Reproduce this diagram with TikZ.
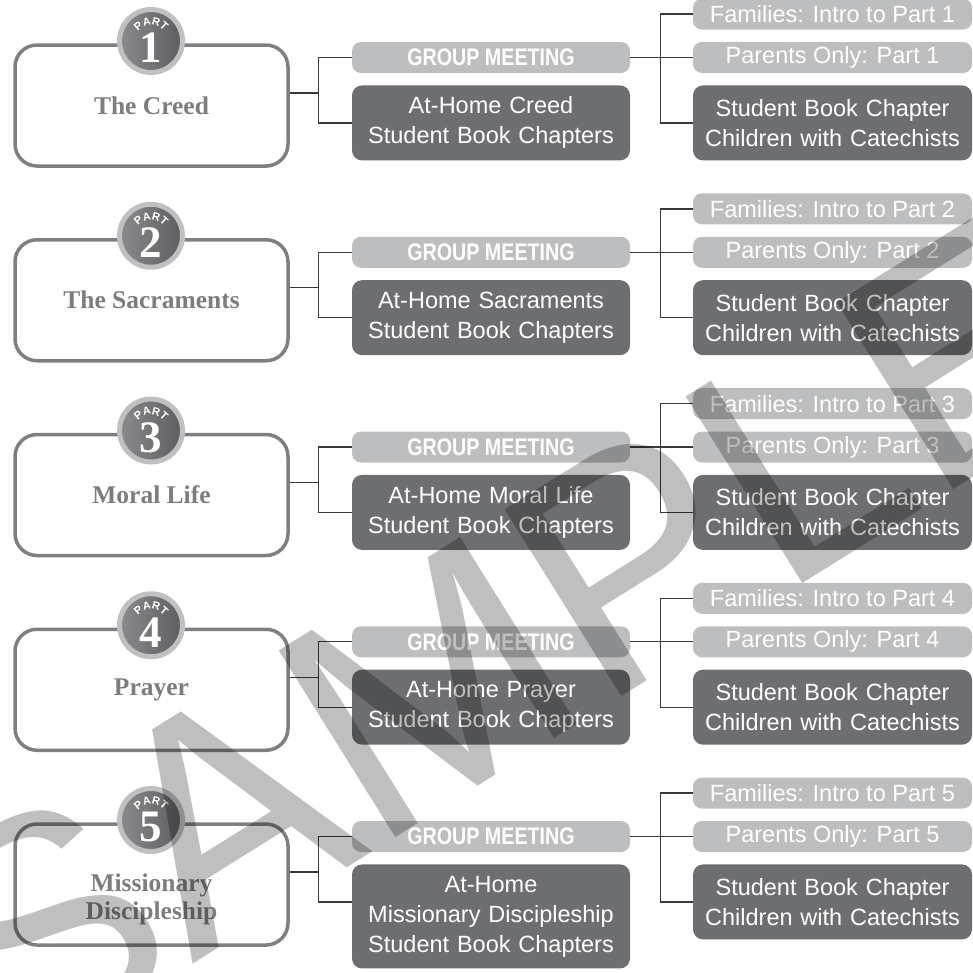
\documentclass[tikz,border=0pt]{standalone}
\usepackage{fontspec}
\setsansfont{Liberation Sans}
\newfontfamily\gmfont[FakeStretch=0.82]{Liberation Sans}
\newfontfamily\cardfont{Liberation Serif}
\usepackage{tikz}
\usetikzlibrary{positioning,calc,decorations.text}
\usepackage{xcolor}
\definecolor{rimgray}{HTML}{7E7F82}
\definecolor{titlegray}{HTML}{7D7D7D}
\definecolor{palebox}{HTML}{BCBEC0}
\definecolor{slatebox}{HTML}{6D6E71}
\definecolor{badgering}{HTML}{BFC0C2}
\definecolor{wirecol}{HTML}{3A3A3A}
\newcommand{\partword}{\sffamily\bfseries\fontsize{11}{11}\selectfont\color{white}}

\begin{document}
\begin{tikzpicture}[x=1pt, y=1pt,
    partCard/.style={rectangle, rounded corners=22pt, draw=rimgray, line width=3.5pt, minimum width=273pt, minimum height=121pt, inner sep=0pt},
    partTitle/.style={font=\cardfont\bfseries\fontsize{25.5}{28}\selectfont, text=titlegray, align=center, inner sep=0pt},
    badgeDisc/.style={circle, draw=badgering, line width=5pt, left color=slatebox!80!white, right color=slatebox!85!black, minimum size=63pt, inner sep=0pt},
    badgeNum/.style={font=\cardfont\bfseries\fontsize{45}{45}\selectfont, text=white, inner sep=0pt},
    meetBox/.style={rectangle, rounded corners=9pt, fill=palebox, text=white, minimum width=278pt, minimum height=31pt, inner sep=0pt, font=\gmfont\bfseries\fontsize{24}{24}\selectfont},
    paleBox/.style={rectangle, rounded corners=9pt, fill=palebox, text=white, minimum width=279pt, minimum height=31pt, inner sep=0pt, font=\sffamily\fontsize{23.5}{30}\selectfont},
    slateBox/.style={rectangle, rounded corners=10pt, fill=slatebox, text=white, align=center, minimum height=75pt, inner xsep=0pt, inner ysep=11.5pt, font=\sffamily\fontsize{23.5}{30}\selectfont},
    wire/.style={draw=wirecol, line width=1.3pt},
    sampleMark/.style={font=\sffamily\fontsize{320}{320}\selectfont, text=black, text opacity=0.25, rotate=32, inner sep=0pt}
]
    \useasboundingbox (0,0) rectangle (973,-972);

    \foreach \i/\ttl/\home/\tsh in {
        1/{The Creed}/{At-Home Creed\\Student Book Chapters}/0,
        2/{The Sacraments}/{At-Home Sacraments\\Student Book Chapters}/0,
        3/{Moral Life}/{At-Home Moral Life\\Student Book Chapters}/0,
        4/{Prayer}/{At-Home Prayer\\Student Book Chapters}/0,
        5/{Missionary\\Discipleship}/{At-Home\\Missionary Discipleship\\Student Book Chapters}/-14.5}
    {
        \pgfmathsetmacro\rowy{-(57.5+194.75*(\i-1))}
        % left card with its badge
        \node[partCard] (part\i) at (151.5, \rowy-48) {};
        \node[partTitle] (title\i) at ($(part\i.center)+(0,\tsh)$) {\ttl};
        \node[badgeDisc] (badge\i) at (151, \rowy+16.5) {};
        \node[badgeNum] (num\i) at ($(badge\i.center)+(0,-7)$) {\i};
        \path[decorate, decoration={text along path, text format delimiters={|}{|}, text={|\partword|PART}, text align=center}]
            ($(badge\i.center)+(160:16)$) arc[start angle=160, end angle=20, radius=16];

        % middle column
        \node[meetBox] (gm\i) at (491, \rowy) {GROUP MEETING};
        \node[slateBox, minimum width=278pt, text width=278pt, below=12pt of gm\i] (home\i) {\home};

        % right column
        \node[paleBox] (par\i) at (832.5, \rowy) {Parents Only: Part \i};
        \node[paleBox, above=12pt of par\i] (fam\i) {Families: Intro to Part \i};
        \node[slateBox, minimum width=279pt, text width=279pt, below=12pt of par\i] (stu\i) {Student Book Chapter\\Children with Catechists};

        % brackets
        \coordinate (lk\i) at ($(gm\i.west)+(-33,0)$);
        \coordinate (pm\i) at ($(part\i.east)+(0,12.5)$);
        \coordinate (rk\i) at ($(gm\i.east)+(30,0)$);
        \draw[wire] (pm\i) -- (pm\i -| lk\i);
        \draw[wire] (gm\i.west) -- (lk\i) |- (home\i.west |- stu\i);
        \draw[wire] (gm\i.east) -- (par\i.west);
        \draw[wire] (fam\i.west) -| (rk\i) |- (stu\i.west);
    }

    \node[sampleMark, anchor=base] (stamp) at (562,-734) {SAMPLE};
\end{tikzpicture}
\end{document}
